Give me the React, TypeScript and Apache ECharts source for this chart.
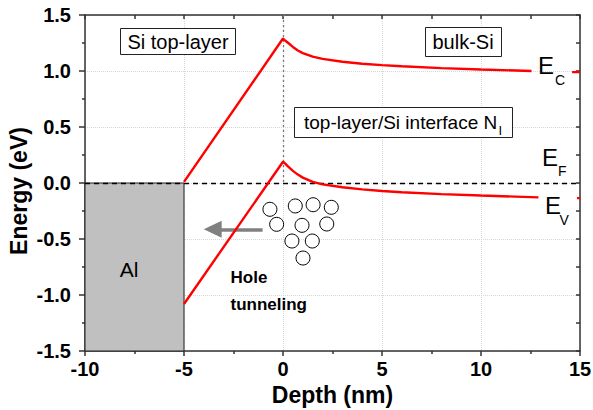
import React, { useEffect, useRef } from "react";
import * as echarts from "echarts";

// ---- data ----
const ecDepth = [-5, 0, 0.1, 0.25, 0.5, 0.75, 1, 1.5, 2, 3, 4, 5, 6, 8, 10, 12.55];
const ecEnergy = [0.01, 1.29, 1.274, 1.252, 1.215, 1.183, 1.16, 1.128, 1.108, 1.083, 1.065, 1.052, 1.042, 1.026, 1.013, 1.0];
const ecStubDepth = [14.6, 15];
const ecStubEnergy = [0.99, 0.99];

const evDepth = [-5, 0, 0.1, 0.25, 0.5, 0.75, 1, 1.5, 2, 3, 4, 5, 6, 8, 10, 12.9];
const evEnergy = [-1.08, 0.19, 0.175, 0.148, 0.108, 0.075, 0.048, 0.01, -0.012, -0.038, -0.057, -0.071, -0.082, -0.099, -0.112, -0.128];
const evStubDepth = [14.85, 15];
const evStubEnergy = [-0.135, -0.135];

const trapDepth = [-0.66, 0.62, 1.52, 2.44, -0.32, 0.96, 2.21, 0.45, 1.48, 1.01];
const trapEnergy = [-0.235, -0.205, -0.194, -0.217, -0.369, -0.378, -0.366, -0.518, -0.518, -0.67];

const alRegion = { x: [-10, -5], y: [-1.5, 0] };
const fermiLevel = 0;
const interfaceDepth = 0;
const arrowFrom = [-1.03, -0.413];
const arrowTo = [-3.55, -0.413];

const xTickMin = -10, xTickMax = 15, xTickStep = 5;
const yTickMin = -1.5, yTickMax = 1.5, yTickStep = 0.5;

const xTitle = "Depth (nm)";
const yTitle = "Energy (eV)";

const F = "'Liberation Sans', Arial, Helvetica, sans-serif";
const AX = "#333";

const pairs = (xs: number[], ys: number[]) => xs.map((x, i) => [x, ys[i]]);

export default function App() {
  const ref = useRef<HTMLDivElement>(null);
  useEffect(() => {
    if (!ref.current) return;
    const chart = echarts.init(ref.current, undefined, { renderer: "svg" });
    const red = { color: "#ff0000", width: 2.4 };
    const mainAxisCommon = {
      axisLine: { show: true, onZero: false, lineStyle: { color: AX, width: 1.5 } },
      axisLabel: { fontFamily: F, fontWeight: "bold", fontSize: 20, color: "#000" },
      splitLine: { show: true, lineStyle: { color: "#d6d6d6", type: "dotted", width: 1 } },
    };
    const mirrorAxis = {
      axisLine: { show: true, onZero: false, lineStyle: { color: AX, width: 1.5 } },
      axisTick: { show: true, inside: true, length: 4, lineStyle: { color: AX, width: 1.5 } },
      axisLabel: { show: false },
      splitLine: { show: false },
    };
    const option: any = {
      animation: false,
      backgroundColor: "#fff",
      grid: { left: 85, right: 13, top: 15, bottom: 59, containLabel: false, outerBoundsMode: "none" },
      xAxis: [
        {
          type: "value", min: xTickMin, max: xTickMax, interval: xTickStep, position: "bottom",
          name: xTitle, nameLocation: "middle", nameGap: 28,
          nameTextStyle: { fontFamily: F, fontWeight: "bold", fontSize: 23, color: "#000" },
          ...mainAxisCommon,
          axisLabel: { ...mainAxisCommon.axisLabel, margin: 8 },
          axisTick: { show: true, inside: false, length: 5, lineStyle: { color: AX, width: 1.5 } },
          minorTick: { show: true, splitNumber: 2, length: 3, lineStyle: { color: AX, width: 1.5 } },
        },
        { type: "value", min: xTickMin, max: xTickMax, interval: 2.5, position: "top", ...mirrorAxis },
      ],
      yAxis: [
        {
          type: "value", min: yTickMin, max: yTickMax, interval: yTickStep, position: "left",
          ...mainAxisCommon,
          axisLabel: { ...mainAxisCommon.axisLabel, margin: 14, formatter: (v: number) => v.toFixed(1) },
          axisTick: { show: true, inside: false, length: 6, lineStyle: { color: AX, width: 1.5 } },
          minorTick: { show: true, splitNumber: 2, length: 3, lineStyle: { color: AX, width: 1.5 } },
        },
        { type: "value", min: yTickMin, max: yTickMax, interval: 0.25, position: "right", ...mirrorAxis },
      ],
      series: [
        {
          type: "line", name: "Al", data: [], silent: true,
          markArea: {
            silent: true,
            itemStyle: { color: "#c0c0c0", borderColor: "#222", borderWidth: 1 },
            data: [[{ coord: [alRegion.x[0], alRegion.y[1]] }, { coord: [alRegion.x[1], alRegion.y[0]] }]],
          },
          markLine: {
            silent: true, symbol: ["none", "none"], label: { show: false },
            data: [
              [
                { coord: [xTickMin, fermiLevel], lineStyle: { type: [5, 4], color: "#000", width: 1.3 } },
                { coord: [xTickMax, fermiLevel] },
              ],
              [
                { coord: [interfaceDepth, yTickMax], lineStyle: { type: [2, 3], color: "#777", width: 1.3 } },
                { coord: [interfaceDepth, fermiLevel] },
              ],
              [
                { coord: arrowFrom, symbol: "none", lineStyle: { type: "solid", color: "#808080", width: 3.5 } },
                { coord: arrowTo, symbol: "triangle", symbolSize: [17, 18] },
              ],
            ],
          },
        },
        { type: "line", name: "Ec", data: pairs(ecDepth, ecEnergy), showSymbol: false, symbol: "none", lineStyle: red, z: 5 },
        { type: "line", name: "Ec2", data: pairs(ecStubDepth, ecStubEnergy), showSymbol: false, symbol: "none", lineStyle: red, z: 5 },
        { type: "line", name: "Ev", data: pairs(evDepth, evEnergy), showSymbol: false, symbol: "none", lineStyle: red, z: 5 },
        { type: "line", name: "Ev2", data: pairs(evStubDepth, evStubEnergy), showSymbol: false, symbol: "none", lineStyle: red, z: 5 },
        {
          type: "scatter", name: "traps", data: pairs(trapDepth, trapEnergy), symbol: "circle", symbolSize: 14,
          itemStyle: { color: "#fff", borderColor: "#000", borderWidth: 1, opacity: 1 }, z: 6,
        },
      ],
      graphic: [
        { type: "text", x: 18.5, y: 191, rotation: Math.PI / 2, style: { text: yTitle, font: `bold 23px ${F}`, fill: "#000", align: "center", verticalAlign: "middle" }, z: 11 },
        { type: "rect", shape: { x: 120.5, y: 28.5, width: 115, height: 26 }, style: { fill: "#fff", stroke: "#222", lineWidth: 1 }, z: 10 },
        { type: "text", x: 178, y: 41.5, style: { text: "Si top-layer", font: `20px ${F}`, fill: "#000", align: "center", verticalAlign: "middle" }, z: 11 },
        { type: "rect", shape: { x: 425.5, y: 27.5, width: 76, height: 29 }, style: { fill: "#fff", stroke: "#222", lineWidth: 1 }, z: 10 },
        { type: "text", x: 463, y: 42, style: { text: "bulk-Si", font: `20px ${F}`, fill: "#000", align: "center", verticalAlign: "middle" }, z: 11 },
        { type: "rect", shape: { x: 294.5, y: 107.5, width: 218, height: 30 }, style: { fill: "#fff", stroke: "#222", lineWidth: 1 }, z: 10 },
        { type: "text", x: 304, y: 122, style: { text: "top-layer/Si interface N", font: `19px ${F}`, fill: "#000", align: "left", verticalAlign: "middle" }, z: 11 },
        { type: "text", x: 498.5, y: 130.5, style: { text: "I", font: `13px ${F}`, fill: "#000", align: "left", verticalAlign: "middle" }, z: 11 },
        { type: "text", x: 538, y: 65.5, style: { text: "E", font: `24px ${F}`, fill: "#000", align: "left", verticalAlign: "middle" }, z: 11 },
        { type: "text", x: 555, y: 80, style: { text: "C", font: `14px ${F}`, fill: "#000", align: "left", verticalAlign: "middle" }, z: 11 },
        { type: "text", x: 542, y: 157, style: { text: "E", font: `24px ${F}`, fill: "#000", align: "left", verticalAlign: "middle" }, z: 11 },
        { type: "text", x: 558, y: 170.5, style: { text: "F", font: `14px ${F}`, fill: "#000", align: "left", verticalAlign: "middle" }, z: 11 },
        { type: "text", x: 545, y: 205.5, style: { text: "E", font: `24px ${F}`, fill: "#000", align: "left", verticalAlign: "middle" }, z: 11 },
        { type: "text", x: 559.5, y: 219.5, style: { text: "V", font: `14px ${F}`, fill: "#000", align: "left", verticalAlign: "middle" }, z: 11 },
        { type: "text", x: 129, y: 269.5, style: { text: "Al", font: `21px ${F}`, fill: "#000", align: "center", verticalAlign: "middle" }, z: 11 },
        { type: "text", x: 230.5, y: 277.5, style: { text: "Hole", font: `bold 17px ${F}`, fill: "#000", align: "left", verticalAlign: "middle" }, z: 11 },
        { type: "text", x: 230.5, y: 304, style: { text: "tunneling", font: `bold 17px ${F}`, fill: "#000", align: "left", verticalAlign: "middle" }, z: 11 },
      ],
    };
    chart.setOption(option);
    return () => chart.dispose();
  }, []);
  return (
    <div
      ref={ref}
      style={{ position: "fixed", left: 0, top: 0, width: 593, height: 410, background: "#fff" }}
    />
  );
}
